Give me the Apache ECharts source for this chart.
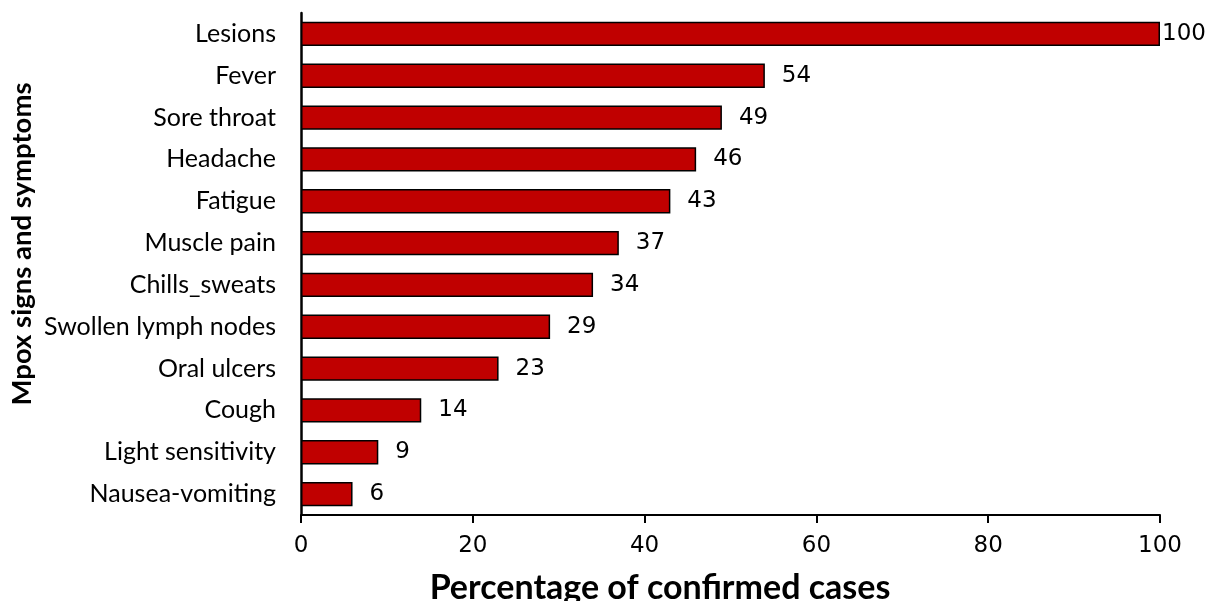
<!DOCTYPE html>
<html>
<head>
<meta charset="utf-8">
<script src="https://cdn.jsdelivr.net/npm/echarts@6/dist/echarts.min.js"></script>
<style>
  html, body { margin: 0; padding: 0; background: #fff; }
  #chart { width: 1207px; height: 601px; }
</style>
</head>
<body>
<div id="chart"></div>
<script>
// Symptoms, listed bottom to top as they stack on the category axis
const symptoms = [
  'Nausea-vomiting', 'Light sensitivity', 'Cough', 'Oral ulcers',
  'Swollen lymph nodes', 'Chills_sweats', 'Muscle pain', 'Fatigue',
  'Headache', 'Sore throat', 'Fever', 'Lesions'
];
// Percentage of confirmed cases reporting each symptom
const percentages = [6, 9, 14, 23, 29, 34, 37, 43, 46, 49, 54, 100];
const xTicks = [0, 20, 40, 60, 80, 100];

const yTitle = 'Mpox signs and symptoms';
const xTitle = 'Percentage of confirmed cases';

const labelFont = 'DejaVu Sans';
const catFont = 'Lato';

const chart = echarts.init(document.getElementById('chart'), null, { renderer: 'canvas' });

chart.setOption({
  animation: false,
  backgroundColor: '#fff',
  grid: { left: 301, right: 47, top: 13, bottom: 86, containLabel: false },
  xAxis: {
    type: 'value',
    min: xTicks[0],
    max: xTicks[xTicks.length - 1],
    interval: 20,
    axisLine: { show: true, lineStyle: { color: '#000', width: 2 } },
    axisTick: { show: true, length: 8, lineStyle: { color: '#000', width: 2 } },
    splitLine: { show: false },
    axisLabel: { color: '#000', fontFamily: labelFont, fontSize: 23, margin: 20 }
  },
  yAxis: {
    type: 'category',
    data: symptoms,
    axisLine: { show: true, lineStyle: { color: '#000', width: 2.5 } },
    axisTick: { show: false },
    axisLabel: { color: '#000', fontFamily: catFont, fontSize: 25, margin: 25 }
  },
  series: [{
    type: 'bar',
    data: percentages.map((v, i) => ({
      value: v,
      label: { distance: i === percentages.length - 1 ? 2 : 17 }
    })),
    barWidth: '58%',
    itemStyle: { color: '#C00000', borderColor: '#000', borderWidth: 1.5 },
    label: {
      show: true,
      position: 'right',
      color: '#000',
      fontFamily: labelFont,
      fontSize: 23
    }
  }],
  graphic: [
    {
      type: 'text',
      x: 22, y: 244,
      rotation: Math.PI / 2,
      style: {
        text: yTitle,
        fill: '#000',
        font: 'bold 27.5px Lato',
        align: 'center',
        verticalAlign: 'middle'
      }
    },
    {
      type: 'text',
      x: 660, y: 588,
      style: {
        text: xTitle,
        fill: '#000',
        font: 'bold 34px Lato',
        align: 'center',
        verticalAlign: 'middle'
      }
    }
  ]
});
</script>
</body>
</html>
